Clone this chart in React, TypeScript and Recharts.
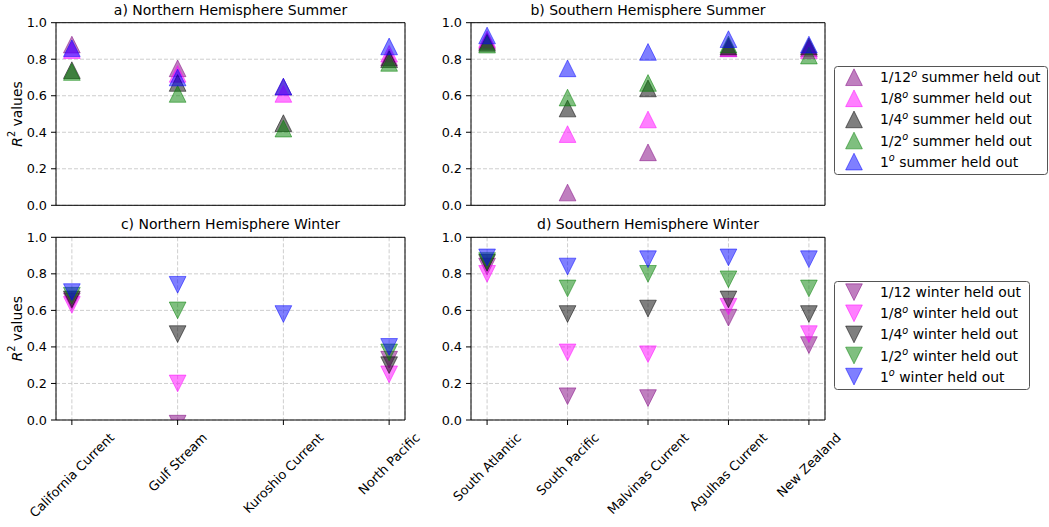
import React from "react";
import { ScatterChart, Scatter, XAxis, YAxis, CartesianGrid, Legend, ReferenceLine } from "recharts";

const nhRegions = ["California Current", "Gulf Stream", "Kuroshio Current", "North Pacific"];
const shRegions = ["South Atlantic", "South Pacific", "Malvinas Current", "Agulhas Current", "New Zealand"];

const resolutions = ["1/12", "1/8", "1/4", "1/2", "1"];
const seriesColors = ["#800080", "#ff00ff", "#000000", "#008000", "#0000ff"];
const yTicks = [0, 0.2, 0.4, 0.6, 0.8, 1.0];

// R² per region, one array per held-out resolution
const nhSummer12 = [0.88, 0.75, 0.65, 0.81];
const nhSummer8 = [0.85, 0.72, 0.61, 0.83];
const nhSummer4 = [0.74, 0.67, 0.45, 0.8];
const nhSummer2 = [0.73, 0.61, 0.42, 0.78];
const nhSummer1 = [0.86, 0.7, 0.65, 0.87];

const shSummer12 = [0.9, 0.07, 0.29, 0.86, 0.86];
const shSummer8 = [0.91, 0.39, 0.47, 0.86, 0.85];
const shSummer4 = [0.89, 0.53, 0.64, 0.87, 0.87];
const shSummer2 = [0.88, 0.59, 0.67, 0.88, 0.82];
const shSummer1 = [0.93, 0.75, 0.84, 0.91, 0.88];

const nhWinter12 = [0.65, -0.02, null, 0.33];
const nhWinter8 = [0.63, 0.2, null, 0.25];
const nhWinter4 = [0.66, 0.47, null, 0.3];
const nhWinter2 = [0.68, 0.6, null, 0.37];
const nhWinter1 = [0.7, 0.74, 0.58, 0.4];

const shWinter12 = [0.84, 0.13, 0.12, 0.56, 0.41];
const shWinter8 = [0.8, 0.37, 0.36, 0.62, 0.47];
const shWinter4 = [0.86, 0.58, 0.61, 0.66, 0.58];
const shWinter2 = [0.87, 0.72, 0.8, 0.77, 0.72];
const shWinter1 = [0.89, 0.84, 0.88, 0.89, 0.88];

const FONT = "'DejaVu Sans', sans-serif";
const TICK_SIZE = 12.8;
const LABEL_SIZE = 13.9;
const MARKER = 8.35;

const toPoints = (vals: (number | null)[]) =>
  vals.map((v, i) => (v == null ? null : { x: i, y: v })).filter(Boolean) as { x: number; y: number }[];

function Marker({ cx, cy, color, down }: { cx: number; cy: number; color: string; down: boolean }) {
  const h = MARKER;
  const pts = down
    ? `${cx - h},${cy - h} ${cx + h},${cy - h} ${cx},${cy + h}`
    : `${cx},${cy - h} ${cx - h},${cy + h} ${cx + h},${cy + h}`;
  return (
    <polygon
      points={pts}
      fill={color}
      fillOpacity={0.5}
      stroke={color}
      strokeOpacity={0.5}
      strokeWidth={1}
    />
  );
}

let measureCtx: CanvasRenderingContext2D | null = null;
function textWidth(s: string, size: number) {
  if (!measureCtx && typeof document !== "undefined") {
    measureCtx = document.createElement("canvas").getContext("2d");
  }
  if (!measureCtx) return s.length * size * 0.6;
  measureCtx.font = `${size}px "DejaVu Sans"`;
  return measureCtx.measureText(s).width;
}

// rotated category label, its bounding box centred under the tick
function RotatedTick(props: any) {
  const { x, y, payload, names } = props;
  const label = names[payload.value];
  if (!label) return null;
  const L = textWidth(label, TICK_SIZE);
  const H = (L + TICK_SIZE * 1.16) / Math.SQRT2;
  const cy = y + H / 2;
  return (
    <text
      x={x}
      y={cy}
      textAnchor="middle"
      dominantBaseline="central"
      transform={`rotate(-45 ${x} ${cy})`}
      fontSize={TICK_SIZE}
      fontFamily={FONT}
      fill="#000"
    >
      {label}
    </text>
  );
}

function YLabel(props: any) {
  const vb = props.viewBox;
  const cy = vb.y + vb.height / 2;
  return (
    <text
      x={17}
      y={cy}
      transform={`rotate(-90 17 ${cy})`}
      textAnchor="middle"
      dominantBaseline="central"
      fontSize={LABEL_SIZE}
      fontFamily={FONT}
      fill="#000"
    >
      <tspan fontStyle="italic">R</tspan>
      <tspan fontSize={9.7} dy={-6}>2</tspan>
      <tspan dy={6}> values</tspan>
    </text>
  );
}

function LegendBox({ season, down, width }: { season: string; down: boolean; width: number }) {
  const h = 109;
  return (
    <svg width={width} height={h} style={{ display: "block" }}>
      <rect x={0.5} y={0.5} width={width - 1} height={h - 1} rx={3} fill="#fff" stroke="#555" strokeWidth={1} />
      {resolutions.map((r, i) => {
        const cy = 11.2 + i * 21.1;
        const degree = season === "summer" || i > 0;
        return (
          <g key={r}>
            <Marker cx={20} cy={cy} color={seriesColors[i]} down={down} />
            <text x={46} y={cy + 5} fontSize={LABEL_SIZE} fontFamily={FONT} fill="#000">
              {r}
              {degree && (
                <tspan fontStyle="italic" fontSize={9.7} dy={-5.5}>
                  o
                </tspan>
              )}
              <tspan dy={degree ? 5.5 : 0}>{` ${season} held out`}</tspan>
            </text>
          </g>
        );
      })}
    </svg>
  );
}

type PanelProps = {
  left: number;
  top: number;
  width: number;
  height: number;
  margin: { top: number; right: number; bottom: number; left: number };
  regions: string[];
  series: (number | null)[][];
  down: boolean;
  title: string;
  labels: boolean;
  yLabel: boolean;
  legend?: { season: string; left: number; top: number; width: number };
};

const Y_AXIS_W = 40;

function Panel(p: PanelProps) {
  const n = p.regions.length;
  const pad = (n - 1) * 0.05;
  const domain = [-pad, n - 1 + pad];
  const xTicks = p.regions.map((_, i) => i);
  const plotLeft = p.margin.left + Y_AXIS_W;
  const plotWidth = p.width - plotLeft - p.margin.right;
  return (
    <div style={{ position: "absolute", left: p.left, top: p.top }}>
      <div
        style={{
          position: "absolute",
          left: plotLeft,
          width: plotWidth,
          top: p.margin.top - 8.3 - 11.9,
          height: 14,
          lineHeight: "14px",
          fontSize: 14,
          textAlign: "center",
          whiteSpace: "nowrap",
          color: "#000",
        }}
      >
        {p.title}
      </div>
      <ScatterChart width={p.width} height={p.height} margin={p.margin}>
        <CartesianGrid stroke="#c8c8c8" strokeDasharray="4 2" strokeWidth={0.9} />
        <XAxis
          type="number"
          dataKey="x"
          domain={domain}
          ticks={xTicks}
          interval={0}
          height={p.labels ? 100 : 6}
          tickSize={5}
          tickMargin={5}
          axisLine={{ stroke: "#000", strokeWidth: 1 }}
          tickLine={{ stroke: "#000" }}
          tick={p.labels ? (t: any) => <RotatedTick {...t} names={p.regions} /> : false}
        />
        <YAxis
          type="number"
          dataKey="y"
          domain={[0, 1]}
          allowDataOverflow
          ticks={yTicks}
          interval={0}
          width={Y_AXIS_W}
          tickSize={5}
          tickMargin={4}
          tickFormatter={(v: number) => v.toFixed(1)}
          tick={{ fontSize: TICK_SIZE, fill: "#000", fontFamily: FONT }}
          axisLine={{ stroke: "#000", strokeWidth: 1 }}
          tickLine={{ stroke: "#000" }}
          label={p.yLabel ? (lp: any) => <YLabel {...lp} /> : undefined}
        />
        {/* top and right spines */}
        <ReferenceLine y={1} stroke="#000" strokeWidth={1} />
        <ReferenceLine x={domain[1]} stroke="#000" strokeWidth={1} />
        {p.series.map((vals, i) => (
          <Scatter
            key={resolutions[i]}
            name={resolutions[i]}
            data={toPoints(vals)}
            fill={seriesColors[i]}
            isAnimationActive={false}
            shape={(s: any) => <Marker cx={s.cx} cy={s.cy} color={seriesColors[i]} down={p.down} />}
          />
        ))}
        {p.legend && (
          <Legend
            layout="horizontal"
            verticalAlign="middle"
            align="center"
            wrapperStyle={{ position: "absolute", left: p.legend.left, top: p.legend.top, width: p.legend.width, height: 109 }}
            content={() => <LegendBox season={p.legend!.season} down={p.down} width={p.legend!.width} />}
          />
        )}
      </ScatterChart>
    </div>
  );
}

export default function App() {
  return (
    <div
      style={{
        position: "fixed",
        left: 0,
        top: 0,
        width: 1049,
        height: 527,
        background: "#fff",
        fontFamily: FONT,
      }}
    >
      <Panel
        left={0}
        top={0}
        width={420}
        height={215}
        margin={{ top: 22.7, right: 15, bottom: 3.7, left: 16 }}
        regions={nhRegions}
        series={[nhSummer12, nhSummer8, nhSummer4, nhSummer2, nhSummer1]}
        down={false}
        title="a) Northern Hemisphere Summer"
        labels={false}
        yLabel
      />
      <Panel
        left={420}
        top={0}
        width={629}
        height={215}
        margin={{ top: 22.7, right: 224, bottom: 3.7, left: 11 }}
        regions={shRegions}
        series={[shSummer12, shSummer8, shSummer4, shSummer2, shSummer1]}
        down={false}
        title="b) Southern Hemisphere Summer"
        labels={false}
        yLabel={false}
        legend={{ season: "summer", left: 414, top: 66, width: 214 }}
      />
      <Panel
        left={0}
        top={230}
        width={460}
        height={297}
        margin={{ top: 7.3, right: 55, bottom: 7, left: 16 }}
        regions={nhRegions}
        series={[nhWinter12, nhWinter8, nhWinter4, nhWinter2, nhWinter1]}
        down
        title="c) Northern Hemisphere Winter"
        labels
        yLabel
      />
      <Panel
        left={420}
        top={230}
        width={629}
        height={297}
        margin={{ top: 7.3, right: 224, bottom: 7, left: 11 }}
        regions={shRegions}
        series={[shWinter12, shWinter8, shWinter4, shWinter2, shWinter1]}
        down
        title="d) Southern Hemisphere Winter"
        labels
        yLabel={false}
        legend={{ season: "winter", left: 414, top: 51, width: 196 }}
      />
    </div>
  );
}
